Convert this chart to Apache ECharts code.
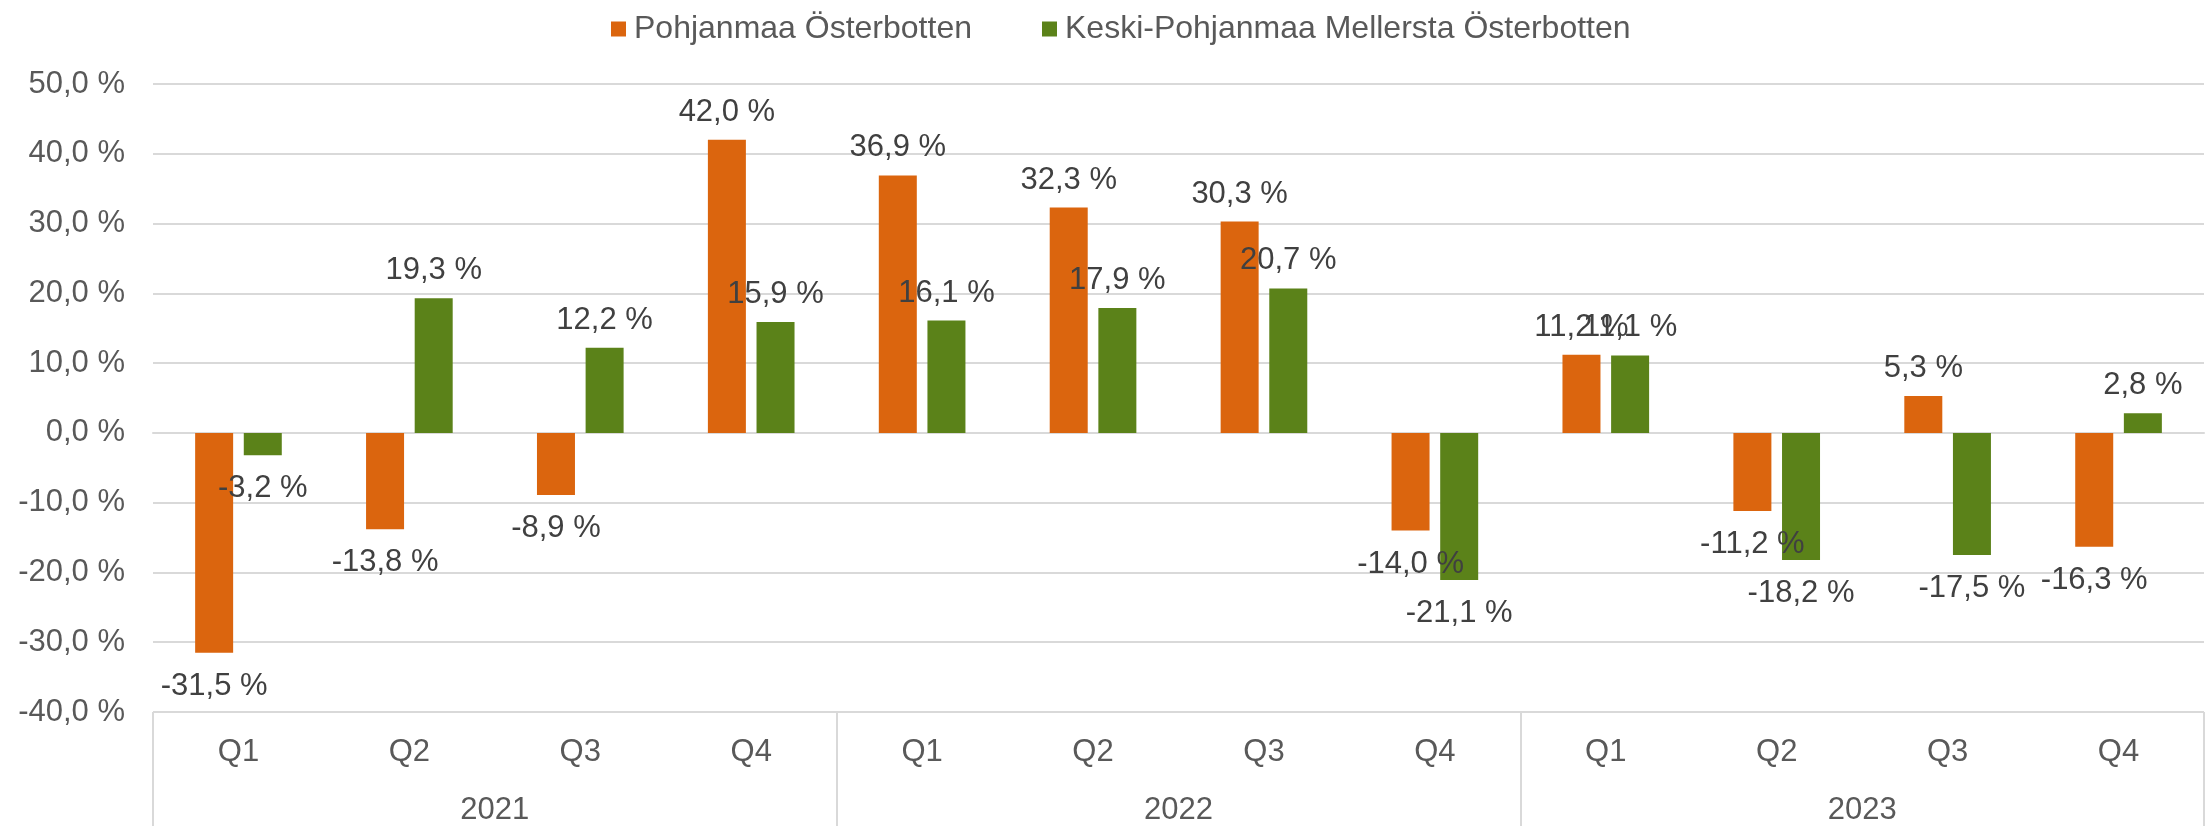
<!DOCTYPE html>
<html>
<head>
<meta charset="utf-8">
<script src="https://cdn.jsdelivr.net/npm/echarts@6/dist/echarts.min.js"></script>
<style>
html,body{margin:0;padding:0;background:#fff;}
#chart{width:2211px;height:826px;}
</style>
</head>
<body>
<div id="chart"></div>
<script>
const quarters = ['Q1','Q2','Q3','Q4','Q1','Q2','Q3','Q4','Q1','Q2','Q3','Q4'];
const years = ['2021','2022','2023'];
const seriesNames = ['Pohjanmaa Österbotten','Keski-Pohjanmaa Mellersta Österbotten'];
const pohjanmaa = [-31.5, -13.8, -8.9, 42.0, 36.9, 32.3, 30.3, -14.0, 11.2, -11.2, 5.3, -16.3];
const keskiPohjanmaa = [-3.2, 19.3, 12.2, 15.9, 16.1, 17.9, 20.7, -21.1, 11.1, -18.2, -17.5, 2.8];
const yMin = -40, yMax = 50, yStep = 10;

const FONT = '"Liberation Sans", Arial, sans-serif';
const fmt = v => v.toFixed(1).replace('.', ',') + ' %';

function labelled(arr){
  return arr.map(v => ({
    value: v,
    label: { position: v >= 0 ? 'top' : 'bottom', distance: v >= 0 ? 12 : 18 }
  }));
}

const chart = echarts.init(document.getElementById('chart'), null, {renderer:'canvas'});
chart.setOption({
  animation: false,
  backgroundColor: '#ffffff',
  textStyle: { fontFamily: FONT },
  legend: {
    top: 8,
    left: 606,
    icon: 'rect',
    itemWidth: 15,
    itemHeight: 15,
    itemGap: 70,
    textStyle: { fontFamily: FONT, fontSize: 32, color: '#595959', padding: [0,0,0,3] },
    data: seriesNames
  },
  grid: { left: 153, right: 7, top: 84, bottom: 108, containLabel: false },
  xAxis: [
    {
      type: 'category',
      data: quarters,
      position: 'bottom',
      axisLine: { show: true, lineStyle: { color: '#D9D9D9', width: 2 } },
      axisTick: { show: false },
      axisLabel: { fontFamily: FONT, fontSize: 31, color: '#595959', margin: 25, interval: 0 }
    },
    {
      type: 'category',
      data: years,
      position: 'bottom',
      axisLine: { show: false },
      axisTick: { show: true, length: 115, lineStyle: { color: '#D9D9D9', width: 2 } },
      axisLabel: { fontFamily: FONT, fontSize: 31, color: '#595959', margin: 83, interval: 0 }
    }
  ],
  yAxis: {
    type: 'value',
    min: yMin, max: yMax, interval: yStep,
    axisLine: { show: false },
    axisTick: { show: false },
    splitLine: { lineStyle: { color: '#D9D9D9', width: 2 } },
    axisLabel: { fontFamily: FONT, fontSize: 31, color: '#595959', margin: 28, formatter: v => fmt(v) }
  },
  series: [
    {
      name: seriesNames[0],
      type: 'bar',
      xAxisIndex: 0,
      data: labelled(pohjanmaa),
      barWidth: 38,
      barGap: '28%',
      itemStyle: { color: '#DB650E' },
      label: { show: true, fontFamily: FONT, fontSize: 31, color: '#404040', formatter: p => fmt(p.value) }
    },
    {
      name: seriesNames[1],
      type: 'bar',
      xAxisIndex: 0,
      data: labelled(keskiPohjanmaa),
      barWidth: 38,
      barGap: '28%',
      itemStyle: { color: '#5B8219' },
      label: { show: true, fontFamily: FONT, fontSize: 31, color: '#404040', formatter: p => fmt(p.value) }
    }
  ]
});
</script>
</body>
</html>
